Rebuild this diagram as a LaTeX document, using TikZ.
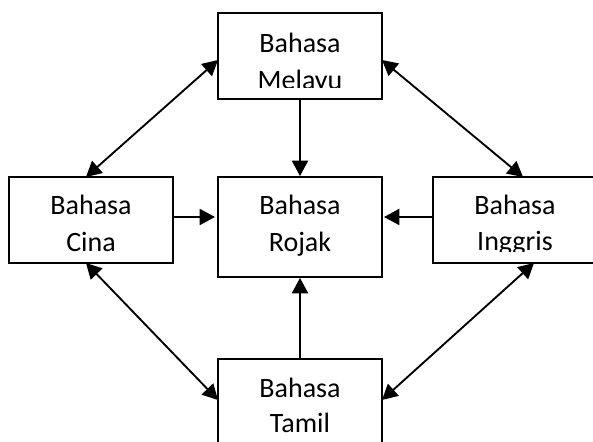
\documentclass[tikz,border=0pt]{standalone}
\usepackage{fontspec}
\setmainfont{Carlito}
\usetikzlibrary{arrows.meta}
\begin{document}
\begin{tikzpicture}[x=0.75pt,y=-0.75pt,
  box/.style={draw=black,line width=1.4pt,inner sep=0pt,minimum width=123pt,minimum height=64.5pt},
  lbl/.style={anchor=base,inner sep=0pt,font=\fontsize{21}{28}\selectfont},
  conn/.style={line width=1.4pt,-{Triangle[length=11.5pt,width=12pt]}},
  dconn/.style={line width=1.4pt,{Triangle[length=11.5pt,width=12pt]}-{Triangle[length=11.5pt,width=12pt]}}]
\useasboundingbox (0,0) rectangle (593,442);
\fill[white] (0,0) rectangle (593,442);
% boxes
\node[box] (mel) at (300,56) {};
\node[box] (cin) at (91,220) {};
\node[box,minimum height=75pt] (roj) at (300,227) {};
\node[box] (ing) at (515,220) {};
\node[box] (tam) at (300,402) {};
% labels (clipped like the original text boxes)
\begin{scope}
\clip (220,15) rectangle (380,88);
\node[lbl] (melA) at (300,53) {Bahasa};
\node[lbl] (melB) at (300,90) {Melayu};
\end{scope}
\node[lbl] (cinA) at (91,215) {Bahasa};
\node[lbl] (cinB) at (91,252) {Cina};
\node[lbl] (rojA) at (300,215) {Bahasa};
\node[lbl] (rojB) at (300,252) {Rojak};
\begin{scope}
\clip (435,179) rectangle (593,252);
\node[lbl] (ingA) at (515,215) {Bahasa};
\node[lbl] (ingB) at (515,251) {Inggris};
\end{scope}
\node[lbl] (tamA) at (300,397) {Bahasa};
\node[lbl] (tamB) at (300,432) {Tamil};
% attachment points
\coordinate (cinE) at (173,217);
\coordinate (rojW) at (215,217);
\coordinate (ingW) at (433,217);
\coordinate (rojE) at (384,217);
\coordinate (melW) at (218,60);
\coordinate (melE) at (382,60);
\coordinate (cinN) at (86,177);
\coordinate (cinS) at (86,263);
\coordinate (ingN) at (523,177);
\coordinate (ingS) at (534,263);
\coordinate (tamW) at (218,400);
\coordinate (tamE) at (382,400);
% connectors
\draw[conn] (mel.south) -- (roj.north);
\draw[conn] (tam.north) -- (roj.south);
\draw[conn] (cinE) -- (rojW);
\draw[conn] (ingW) -- (rojE);
\draw[dconn] (melW) -- (cinN);
\draw[dconn] (melE) -- (ingN);
\draw[dconn] (cinS) -- (tamW);
\draw[dconn] (ingS) -- (tamE);
\end{tikzpicture}
\end{document}
